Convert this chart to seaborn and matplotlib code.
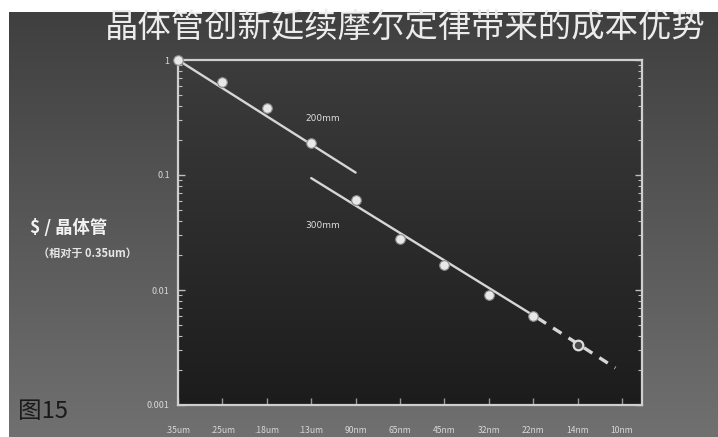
import numpy as np
import pandas as pd
import matplotlib
matplotlib.use("Agg")
import matplotlib.pyplot as plt
import seaborn as sns
from matplotlib.ticker import LogLocator, NullFormatter, FixedLocator, FixedFormatter

# Process nodes along the x axis
nodes = [".35um", ".25um", ".18um", ".13um", "90nm", "65nm",
         "45nm", "32nm", "22nm", "14nm", "10nm"]

# Relative cost per transistor (normalised to 0.35um)
node_200 = [0, 1, 2, 3]
cost_200 = [1.0, 0.64, 0.38, 0.19]
node_300 = [4, 5, 6, 7, 8]
cost_300 = [0.061, 0.028, 0.0165, 0.0091, 0.0059]
node_proj = [9]
cost_proj = [0.0033]

# Trend lines for each wafer size and the projection
trend_200_x = [0, 4]
trend_200_y = [1.0, 0.105]
trend_300_x = [3, 8.1]
trend_300_y = [0.094, 0.0057]
trend_proj_x = [8.1, 9.85]
trend_proj_y = [0.0057, 0.0021]

y_ticks = [1, 0.1, 0.01, 0.001]
y_labels = ["1", "0.1", "0.01", "0.001"]

sns.set_theme(style="white")
plt.rcParams['font.family'] = ['Noto Sans CJK SC', 'DejaVu Sans']

W, H = 718, 437
fig = plt.figure(figsize=(W / 100, H / 100), dpi=100)

# Slide background: grey vertical gradient, darker panel behind the plot
px0, px1, py0, py1 = 178, 642, 60, 405
rows = np.linspace(0, 1, H)[:, None]
outer = (0x3e + (0x70 - 0x3e) * rows) / 255.0
img = np.repeat(np.repeat(outer[:, :, None], W, axis=1), 3, axis=2)
inner_rows = np.linspace(0, 1, py1 - py0)[:, None]
inner = (0x3c + (0x1c - 0x3c) * inner_rows) / 255.0
img[py0:py1, px0:px1, :] = inner[:, :, None]
img[:12, :, :] = 1.0
img[:, :9, :] = 1.0
bg = fig.add_axes([0, 0, 1, 1], zorder=-10)
bg.imshow(img, aspect="auto", interpolation="bilinear")
bg.set_axis_off()

ax = fig.add_axes([px0 / W, 1 - py1 / H, (px1 - px0) / W, (py1 - py0) / H])
ax.set_facecolor("none")

line_col = "#d6d6d6"
df_t200 = pd.DataFrame({"x": trend_200_x, "y": trend_200_y})
df_t300 = pd.DataFrame({"x": trend_300_x, "y": trend_300_y})
df_tp = pd.DataFrame({"x": trend_proj_x, "y": trend_proj_y})
sns.lineplot(data=df_t200, x="x", y="y", ax=ax, color=line_col, lw=1.7, clip_on=False)
sns.lineplot(data=df_t300, x="x", y="y", ax=ax, color=line_col, lw=1.7)
sns.lineplot(data=df_tp, x="x", y="y", ax=ax, color=line_col, lw=2.4,
             linestyle=(0, (3, 2.5)))

df_p200 = pd.DataFrame({"x": node_200, "y": cost_200})
df_p300 = pd.DataFrame({"x": node_300, "y": cost_300})
df_pp = pd.DataFrame({"x": node_proj, "y": cost_proj})
sns.scatterplot(data=df_p200, x="x", y="y", ax=ax, s=48, color="#e8e8e8",
                edgecolor="#8a8a8a", linewidth=0.8, zorder=5, clip_on=False)
sns.scatterplot(data=df_p300, x="x", y="y", ax=ax, s=48, color="#e8e8e8",
                edgecolor="#8a8a8a", linewidth=0.8, zorder=5)
sns.scatterplot(data=df_pp, x="x", y="y", ax=ax, s=48, color="#4a4a4a",
                edgecolor="#dddddd", linewidth=1.6, zorder=5)

ax.set_yscale("log")
ax.set_xlim(0, 10.45)
ax.set_ylim(0.001, 1)

ax.yaxis.set_major_locator(FixedLocator(y_ticks))
ax.yaxis.set_major_formatter(FixedFormatter(y_labels))
ax.yaxis.set_minor_locator(LogLocator(base=10, subs=np.arange(2, 10)))
ax.yaxis.set_minor_formatter(NullFormatter())
ax.set_xticks(range(len(nodes)))
ax.set_xticklabels(nodes)

ax.tick_params(axis="y", which="both", direction="in", left=True, right=True,
               colors="#bdbdbd", labelcolor="#d8d8d8", labelsize=6.5, pad=6)
ax.tick_params(axis="y", which="major", length=5, width=1)
ax.tick_params(axis="y", which="minor", length=3, width=0.8)
ax.tick_params(axis="x", which="major", direction="in", bottom=True,
               length=5, width=1, colors="#9a9a9a", labelcolor="#d8d8d8",
               labelsize=6.2, pad=15)
ax.set_xlabel("")
ax.set_ylabel("")

for side in ["left", "right", "top", "bottom"]:
    ax.spines[side].set_visible(True)
    ax.spines[side].set_color("#cfcfcf")
    ax.spines[side].set_linewidth(1.6)

ax.text(2.86, 0.313, "200mm", color="#dddddd", fontsize=6.5, va="center",
        ha="left", family=["DejaVu Sans"])
ax.text(2.86, 0.0367, "300mm", color="#dddddd", fontsize=6.5, va="center",
        ha="left", family=["DejaVu Sans"])

fig.text(105 / W, 1 - 27 / H, "晶体管创新延续摩尔定律带来的成本优势",
         color="#ececec", fontsize=24, ha="left", va="center")
fig.text(30 / W, 1 - 228 / H, "$ / 晶体管", color="#f2f2f2", fontsize=12.5,
         fontweight="bold", style="italic", ha="left", va="center")
fig.text(38 / W, 1 - 253 / H, "（相对于 0.35um）", color="#e6e6e6", fontsize=8,
         fontweight="bold", style="italic", ha="left", va="center")
fig.text(18 / W, 1 - 412 / H, "图15", color="#1a1a1a", fontsize=17,
         ha="left", va="center")

fig.savefig("out.png", dpi=100)
